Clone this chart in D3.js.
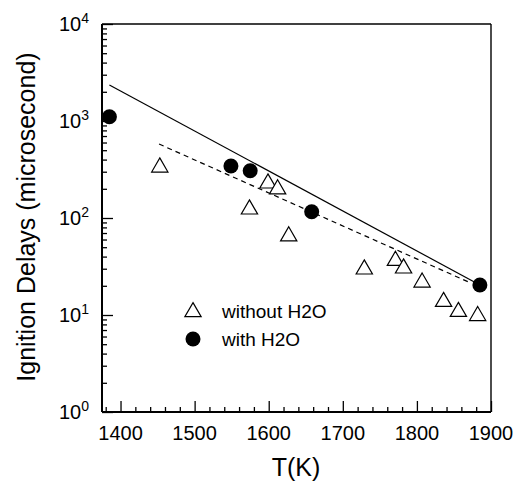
<!DOCTYPE html>
<html>
<head>
<meta charset="utf-8">
<script src="https://cdn.jsdelivr.net/npm/d3@7/dist/d3.min.js"></script>
<style>
  html, body { margin: 0; padding: 0; background: #fff; }
  svg { display: block; font-family: "Liberation Sans", Arial, Helvetica, sans-serif; }
</style>
</head>
<body>
<svg id="chart" width="516" height="485"></svg>
<script>
// Ignition delay vs temperature, with and without added H2O
const withoutT   = [1453, 1574, 1599, 1612, 1627, 1729, 1771, 1782, 1807, 1836, 1856, 1882];
const withoutTau = [333, 123, 228, 198, 65, 29.6, 36.3, 30.3, 21.7, 13.7, 10.8, 9.8];
const withT      = [1385, 1549, 1575, 1658, 1885];
const withTau    = [1107, 344, 307, 116, 20.4];

// model curves
const solidT   = [1385, 1885];
const solidTau = [2350, 20.4];
const dashT    = [1452, 1872];
const dashTau  = [579, 21.5];

const xTicks = [1400, 1500, 1600, 1700, 1800, 1900];
const yTicks = [1, 10, 100, 1000, 10000];
const yTickExp = ["0", "1", "2", "3", "4"];

const svg = d3.select("#chart");
const L = 102, R = 491, T = 24, B = 412;

const x = d3.scaleLinear().domain([1375, 1900]).range([L, R]);
const y = d3.scaleLog().domain([1, 10000]).range([B, T]);

// frame (top and right)
svg.append("line").attr("x1", L).attr("x2", R).attr("y1", T).attr("y2", T)
  .attr("stroke", "#000").attr("stroke-width", 1.6);
svg.append("line").attr("x1", R).attr("x2", R).attr("y1", T).attr("y2", B)
  .attr("stroke", "#000").attr("stroke-width", 1.4);

// bottom axis: majors every 100, minors every 20, ticks pointing inward
const xMinor = d3.range(1380, 1901, 20).filter(v => v % 100 !== 0);
const gx = svg.append("g").attr("transform", `translate(0,${B})`);
gx.call(d3.axisBottom(x).tickValues(xMinor).tickSize(-5).tickFormat("").tickSizeOuter(0))
  .call(g => g.select(".domain").remove());
gx.append("g").call(d3.axisBottom(x).tickValues(xTicks).tickSize(-11).tickFormat("").tickSizeOuter(0))
  .call(g => g.select(".domain").remove());
gx.selectAll("line").attr("stroke", "#000").attr("stroke-width", 1.3);
svg.append("line").attr("x1", L).attr("x2", R).attr("y1", B).attr("y2", B)
  .attr("stroke", "#000").attr("stroke-width", 2);

svg.append("g").selectAll("text").data(xTicks).join("text")
  .attr("x", d => x(d)).attr("y", 440)
  .attr("text-anchor", "middle").attr("font-size", 20).text(d => d);

// left axis: log decades with minor ticks 2..9
const yMinor = [];
[1, 10, 100, 1000].forEach(dec => { for (let k = 2; k <= 9; k++) yMinor.push(dec * k); });
const gy = svg.append("g").attr("transform", `translate(${L},0)`);
gy.call(d3.axisLeft(y).tickValues(yMinor).tickSize(-5).tickFormat("").tickSizeOuter(0))
  .call(g => g.select(".domain").remove());
gy.append("g").call(d3.axisLeft(y).tickValues(yTicks).tickSize(-11).tickFormat("").tickSizeOuter(0))
  .call(g => g.select(".domain").remove());
gy.selectAll("line").attr("stroke", "#000").attr("stroke-width", 1.3);
svg.append("line").attr("x1", L).attr("x2", L).attr("y1", T).attr("y2", B)
  .attr("stroke", "#000").attr("stroke-width", 2);

const ylab = svg.append("g").selectAll("text").data(yTicks).join("text")
  .attr("x", 82).attr("y", d => y(d) + 7)
  .attr("text-anchor", "end").attr("font-size", 20);
ylab.append("tspan").text("10");
ylab.append("tspan").attr("font-size", 14).attr("dy", -8).text((d, i) => yTickExp[i]);
ylab.attr("text-anchor", "start").attr("x", 59);

// axis titles
svg.append("text").attr("x", 296).attr("y", 476).attr("text-anchor", "middle")
  .attr("font-size", 25).text("T(K)");
svg.append("text").attr("transform", "translate(35,217) rotate(-90)")
  .attr("text-anchor", "middle").attr("font-size", 25).text("Ignition Delays (microsecond)");

// model lines
const line = d3.line().x(d => x(d[0])).y(d => y(d[1]));
svg.append("path").datum(solidT.map((t, i) => [t, solidTau[i]]))
  .attr("d", line).attr("fill", "none").attr("stroke", "#000").attr("stroke-width", 1.2);
svg.append("path").datum(dashT.map((t, i) => [t, dashTau[i]]))
  .attr("d", line).attr("fill", "none").attr("stroke", "#000").attr("stroke-width", 1.2)
  .attr("stroke-dasharray", "5,4");

// markers
const tri = d3.symbol().type(d3.symbolTriangle).size(115);
svg.append("g").selectAll("path").data(withoutT.map((t, i) => [t, withoutTau[i]])).join("path")
  .attr("transform", d => `translate(${x(d[0])},${y(d[1])})`)
  .attr("d", tri).attr("fill", "#fff").attr("stroke", "#000").attr("stroke-width", 1.2);
svg.append("g").selectAll("circle").data(withT.map((t, i) => [t, withTau[i]])).join("circle")
  .attr("cx", d => x(d[0])).attr("cy", d => y(d[1])).attr("r", 7.5).attr("fill", "#000");

// legend
const lg = svg.append("g");
lg.append("path").attr("transform", "translate(193,312)").attr("d", tri)
  .attr("fill", "#fff").attr("stroke", "#000").attr("stroke-width", 1.2);
lg.append("circle").attr("cx", 193).attr("cy", 339).attr("r", 7.5).attr("fill", "#000");
lg.append("text").attr("x", 222).attr("y", 318).attr("font-size", 19).text("without H2O");
lg.append("text").attr("x", 222).attr("y", 346).attr("font-size", 19).text("with H2O");
</script>
</body>
</html>
